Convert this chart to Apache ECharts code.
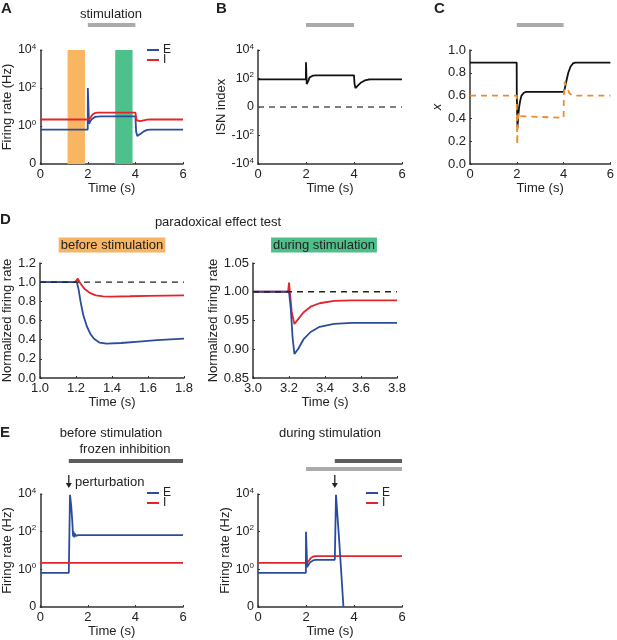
<!DOCTYPE html>
<html>
<head>
<meta charset="utf-8">
<script src="https://cdn.jsdelivr.net/npm/echarts@6/dist/echarts.min.js"></script>
<style>
	html, body { margin: 0; padding: 0; background: #fff; }
	#chart { width: 617px; height: 640px; }
</style>
</head>
<body>
<div id="chart"></div>
<script>
	// ---------- data (time in s) ----------
	// A: firing rates, Hz
	var aRateE = [[0, 0.65], [1.995, 0.65], [2.0, 100], [2.05, 1.3], [2.1, 1.7], [2.15, 2.2], [2.2, 2.6], [2.3, 3.0], [2.4, 3.15], [2.6, 3.2],
		[4.0, 3.2], [4.03, 0.5], [4.08, 0.3], [4.15, 0.33], [4.25, 0.42], [4.35, 0.52], [4.5, 0.62], [4.65, 0.65], [6, 0.65]];
	var aRateI = [[0, 2.2], [2.0, 2.2], [2.04, 1.8], [2.1, 2.6], [2.2, 4.0], [2.3, 4.8], [2.4, 5.0],
		[4.0, 5.0], [4.05, 2.0], [4.1, 1.7], [4.2, 1.8], [4.35, 2.0], [4.5, 2.15], [4.6, 2.2], [6, 2.2]];
	var testWindows = [[1.15, 1.88], [3.15, 3.88]];
	var stimPeriod = [2, 4];

	// B: ISN index
	var bIsn = [[0, 86], [1.995, 86], [2.0, 1400], [2.03, 40], [2.06, 32], [2.1, 70], [2.15, 120], [2.2, 145], [2.3, 160], [2.4, 165],
		[4.0, 165], [4.02, 45], [4.06, 20], [4.12, 24], [4.2, 36], [4.3, 52], [4.45, 72], [4.6, 84], [4.7, 86], [6, 86]];

	// C: x (black) and orange dashed trace
	var cBlack = [[0, 0.89], [1.995, 0.89], [2.0, 0.6], [2.03, 0.32], [2.06, 0.42], [2.1, 0.5], [2.15, 0.56], [2.2, 0.6], [2.3, 0.625], [2.4, 0.633],
		[4.0, 0.633], [4.05, 0.66], [4.1, 0.71], [4.2, 0.8], [4.3, 0.855], [4.4, 0.882], [4.5, 0.89], [6, 0.89]];
	var cOrange = [[0, 0.6], [1.995, 0.6], [2.02, 0.17], [2.04, 0.38], [2.08, 0.45], [2.12, 0.42], [2.2, 0.405],
		[4.0, 0.405], [4.01, 0.6], [4.05, 0.72], [4.15, 0.67], [4.25, 0.62], [4.35, 0.605], [4.45, 0.6], [6, 0.6]];

	// D: normalized firing rate
	var dBeforeI = [[1.0, 1.0], [1.195, 1.0], [1.21, 1.037], [1.22, 1.0], [1.235, 0.96], [1.25, 0.925], [1.28, 0.885], [1.31, 0.863],
		[1.35, 0.852], [1.4, 0.85], [1.5, 0.853], [1.6, 0.857], [1.7, 0.86], [1.8, 0.862]];
	var dBeforeE = [[1.0, 1.0], [1.205, 1.0], [1.215, 0.92], [1.225, 0.8], [1.24, 0.66], [1.26, 0.54], [1.28, 0.46], [1.3, 0.41],
		[1.33, 0.37], [1.37, 0.358], [1.45, 0.365], [1.55, 0.38], [1.65, 0.395], [1.8, 0.41]];
	var dDuringI = [[3.0, 1.0], [3.195, 1.0], [3.2, 1.016], [3.205, 1.0], [3.215, 0.965], [3.23, 0.944], [3.25, 0.952], [3.28, 0.964],
		[3.32, 0.974], [3.37, 0.98], [3.45, 0.984], [3.55, 0.985], [3.8, 0.985]];
	var dDuringE = [[3.0, 1.0], [3.2, 1.0], [3.21, 0.97], [3.22, 0.92], [3.23, 0.892], [3.25, 0.9], [3.28, 0.917], [3.32, 0.93],
		[3.37, 0.939], [3.45, 0.944], [3.55, 0.946], [3.8, 0.946]];
	var dRefLevel = 1;

	// E: firing rates with frozen inhibition, Hz
	var eBeforeE = [[0, 0.65], [1.2, 0.65], [1.25, 9000], [1.3, 2500], [1.35, 300], [1.38, 55], [1.4, 100], [1.43, 50], [1.46, 78],
		[1.5, 60], [1.55, 70], [1.6, 66], [6, 66]];
	var eBeforeI = [[0, 2.2], [6, 2.2]];
	var eDuringE = [[0, 0.65], [1.995, 0.65], [2.0, 100], [2.05, 1.3], [2.1, 1.7], [2.15, 2.2], [2.2, 2.6], [2.3, 3.0], [2.4, 3.15], [2.6, 3.2],
		[3.2, 3.2], [3.25, 9000], [3.39, 25], [3.56, 0]];
	var eDuringI = [[0, 2.2], [2.0, 2.2], [2.04, 1.8], [2.1, 2.6], [2.2, 4.0], [2.3, 4.8], [2.4, 5.0], [6, 5.0]];
	var perturbTimes = [1.2, 3.2];
	var eStimPeriod = [2, 6];

	// tick labels
	var rateTicks = [0.01, 1, 100, 10000];
	var rateTickLabels = ['0', '10{s|0}', '10{s|2}', '10{s|4}'];
	var isnTicks = [-2, -1, 0, 1, 2];
	var isnTickLabels = ['-10{s|4}', '-10{s|2}', '0', '10{s|2}', '10{s|4}'];

	// ---------- helpers ----------
	var font = 'Liberation Sans, Arial, Helvetica, sans-serif';
	var blue = '#2B4C9E', red = '#E2242B';
	var axisColor = '#333';

	var clampRate = function (arr) {
		return arr.map(function (p) { return [p[0], p[1] <= 0.01 ? 0.01 : p[1]]; });
	};
	// symmetric log for ISN index: +-10^2 -> +-1, +-10^4 -> +-2
	var symlog = function (arr) {
		return arr.map(function (p) {
			var v = p[1];
			return [p[0], (v < 0 ? -1 : 1) * Math.log10(1 + Math.abs(v)) / 2];
		});
	};
	var pickLabel = function (ticks, labels, v) {
		var best = 0;
		for (var i = 1; i < ticks.length; i++) {
			if (Math.abs(ticks[i] - v) < Math.abs(ticks[best] - v)) best = i;
		}
		return labels[best];
	};
	var supRich = { s: { fontSize: 8, fontFamily: font, color: '#222', padding: [0, 0, 7, 0] } };

	var baseAxis = function (o) {
		var ax = {
			gridIndex: o.grid,
			type: o.type || 'value',
			min: o.min,
			max: o.max,
			name: o.name,
			nameLocation: 'middle',
			nameGap: o.gap,
			nameTextStyle: { fontFamily: font, fontSize: 13, color: '#222', fontStyle: o.italic ? 'italic' : 'normal' },
			axisLine: { onZero: false, lineStyle: { color: axisColor, width: 1.5 } },
			axisTick: { inside: true, length: 2, lineStyle: { color: axisColor, width: 1 } },
			splitLine: { show: false },
			axisLabel: { fontFamily: font, fontSize: o.labelSize || 13, color: '#222', margin: 4, formatter: o.fmt, rich: supRich }
		};
		if (o.interval !== undefined) ax.interval = o.interval;
		if (o.logBase) ax.logBase = o.logBase;
		return ax;
	};
	var timeAxis = function (grid, min, max, interval, digits) {
		return baseAxis({
			grid: grid, min: min, max: max, interval: interval, name: 'Time (s)', gap: 18,
			fmt: function (v) { return v.toFixed(digits); }
		});
	};
	var rateAxis = function (grid, gap) {
		return baseAxis({
			grid: grid, type: 'log', logBase: 100, min: 0.01, max: 10000, name: 'Firing rate (Hz)', gap: gap, labelSize: 12.5,
			fmt: function (v) { return pickLabel(rateTicks, rateTickLabels, v); }
		});
	};
	var line = function (name, xi, data, color, width, dash) {
		return {
			name: name, type: 'line', xAxisIndex: xi, yAxisIndex: xi, data: data,
			showSymbol: false, symbol: 'none', silent: true,
			lineStyle: { color: color, width: width || 1.8, type: dash || 'solid' },
			itemStyle: { color: color }
		};
	};
	// one legend entry, placed by hand next to its panel
	var legendItem = function (name, left, top) {
		return {
			data: [name], left: left, top: top, padding: 0,
			itemWidth: 12, itemHeight: 2, icon: 'rect', selectedMode: false,
			textStyle: { fontFamily: font, fontSize: 12, color: '#222', padding: [0, 0, 0, -1] }
		};
	};

	// ---------- chart ----------
	var chart = echarts.init(document.getElementById('chart'));
	var option = {
		animation: false,
		backgroundColor: '#fff',
		grid: [
			{ left: 40, top: 50, width: 143, height: 114 },   // A
			{ left: 258, top: 50, width: 144, height: 114 },  // B
			{ left: 470, top: 50, width: 144, height: 114 },  // C
			{ left: 40, top: 263, width: 144, height: 115 },  // D before
			{ left: 253, top: 263, width: 144, height: 115 }, // D during
			{ left: 40, top: 494, width: 143, height: 113 },  // E before
			{ left: 258, top: 494, width: 144, height: 113 }  // E during
		],
		xAxis: [
			timeAxis(0, 0, 6, 2, 0),
			timeAxis(1, 0, 6, 2, 0),
			timeAxis(2, 0, 6, 2, 0),
			timeAxis(3, 1.0, 1.8, 0.2, 1),
			timeAxis(4, 3.0, 3.8, 0.2, 1),
			timeAxis(5, 0, 6, 2, 0),
			timeAxis(6, 0, 6, 2, 0)
		],
		yAxis: [
			rateAxis(0, 25),
			baseAxis({
				grid: 1, min: -2, max: 2, interval: 1, name: 'ISN index', gap: 29, labelSize: 12.5,
				fmt: function (v) { return pickLabel(isnTicks, isnTickLabels, v); }
			}),
			baseAxis({ grid: 2, min: 0, max: 1, interval: 0.2, name: 'x', italic: true, gap: 20, fmt: function (v) { return v.toFixed(1); } }),
			baseAxis({ grid: 3, min: 0, max: 1.2, interval: 0.2, name: 'Normalized firing rate', gap: 25, fmt: function (v) { return v.toFixed(1); } }),
			baseAxis({ grid: 4, min: 0.85, max: 1.05, interval: 0.05, name: 'Normalized firing rate', gap: 32, fmt: function (v) { return v.toFixed(2); } }),
			rateAxis(5, 25),
			rateAxis(6, 25)
		],
		legend: [
			legendItem('E', 147, 44), legendItem('I', 147, 54),
			legendItem('E', 147, 487), legendItem('I', 147, 497),
			legendItem('E', 366, 487), legendItem('I', 366, 497)
		],
		series: [
			// A
			{
				type: 'line', xAxisIndex: 0, yAxisIndex: 0, data: [], z: 1, silent: true,
				markArea: {
					silent: true,
					data: [
						[{ xAxis: testWindows[0][0], itemStyle: { color: '#F8B662' } }, { xAxis: testWindows[0][1] }],
						[{ xAxis: testWindows[1][0], itemStyle: { color: '#4EC08C' } }, { xAxis: testWindows[1][1] }]
					]
				}
			},
			line('E', 0, clampRate(aRateE), blue),
			line('I', 0, clampRate(aRateI), red),
			// B
			line('ISN', 1, [[0, 0], [6, 0]], '#555', 1.5, [6, 5]),
			line('ISN', 1, symlog(bIsn), '#111', 1.8),
			// C
			line('xE', 2, cBlack, '#111', 1.8),
			line('xI', 2, cOrange, '#F08A2C', 1.8, [6, 5]),
			// D
			line('I', 3, dBeforeI, red),
			line('E', 3, dBeforeE, blue),
			line('ref', 3, [[1.0, dRefLevel], [1.8, dRefLevel]], '#222', 1.3, [6, 5]),
			line('I', 4, dDuringI, red),
			line('E', 4, dDuringE, blue),
			line('ref', 4, [[3.0, dRefLevel], [3.8, dRefLevel]], '#222', 1.3, [6, 5]),
			// E
			line('E', 5, clampRate(eBeforeE), blue),
			line('I', 5, clampRate(eBeforeI), red),
			line('I', 6, clampRate(eDuringI), red),
			line('E', 6, clampRate(eDuringE), blue)
		]
	};
	chart.setOption(option);

	// ---------- annotations ----------
	var px = function (axis, t) { return chart.convertToPixel({ xAxisIndex: axis }, t); };
	var txt = function (s, x, y, o) {
		o = o || {};
		return {
			type: 'text', x: x, y: y, silent: true,
			style: {
				text: s, fill: '#222', fontFamily: font, fontSize: o.size || 13, fontWeight: o.bold ? 'bold' : 'normal',
				align: o.align || 'center', verticalAlign: 'middle', textAlign: o.align || 'center', textVerticalAlign: 'middle',
				backgroundColor: o.bg, padding: o.bg ? [1, 2, 1, 2] : 0
			}
		};
	};
	var bar = function (axis, t0, t1, y, color) {
		var x0 = px(axis, t0), x1 = px(axis, t1);
		return { type: 'rect', silent: true, shape: { x: x0, y: y - 2, width: x1 - x0, height: 4 }, style: { fill: color } };
	};
	var arrow = function (axis, t, y0, y1) {
		var x = px(axis, t);
		return {
			type: 'group', silent: true, children: [
				{ type: 'line', shape: { x1: x, y1: y0, x2: x, y2: y1 - 3 }, style: { stroke: '#222', lineWidth: 1.3 } },
				{ type: 'polygon', shape: { points: [[x - 3, y1 - 5], [x + 3, y1 - 5], [x, y1]] }, style: { fill: '#222' } }
			]
		};
	};
	var lightGrey = '#ABABAB', darkGrey = '#5E5E5E';

	chart.setOption({
		graphic: [
			txt('A', 1, 9, { bold: true, size: 15, align: 'left' }),
			txt('B', 216, 9, { bold: true, size: 15, align: 'left' }),
			txt('C', 434, 9, { bold: true, size: 15, align: 'left' }),
			txt('D', 0, 220, { bold: true, size: 15, align: 'left' }),
			txt('E', 0, 433, { bold: true, size: 15, align: 'left' }),

			txt('stimulation', 111, 14),
			bar(0, stimPeriod[0], stimPeriod[1], 25, lightGrey),
			bar(1, stimPeriod[0], stimPeriod[1], 25, lightGrey),
			bar(2, stimPeriod[0], stimPeriod[1], 25, lightGrey),

			txt('paradoxical effect test', 218, 222),
			txt('before stimulation', 112, 245, { bg: '#F7B463' }),
			txt('during stimulation', 324, 245, { bg: '#4FBF8A' }),

			txt('before stimulation', 111, 433),
			txt('frozen inhibition', 125, 449),
			bar(5, perturbTimes[0], 6, 461, darkGrey),
			arrow(5, perturbTimes[0], 475, 488),
			txt('perturbation', 75, 482, { align: 'left' }),

			txt('during stimulation', 330, 433),
			bar(6, perturbTimes[1], 6, 461, darkGrey),
			bar(6, eStimPeriod[0], eStimPeriod[1], 469, lightGrey),
			arrow(6, perturbTimes[1], 475, 488)
		]
	});

	window.addEventListener('resize', function () {
		chart.resize();
	});
</script>
</body>
</html>
